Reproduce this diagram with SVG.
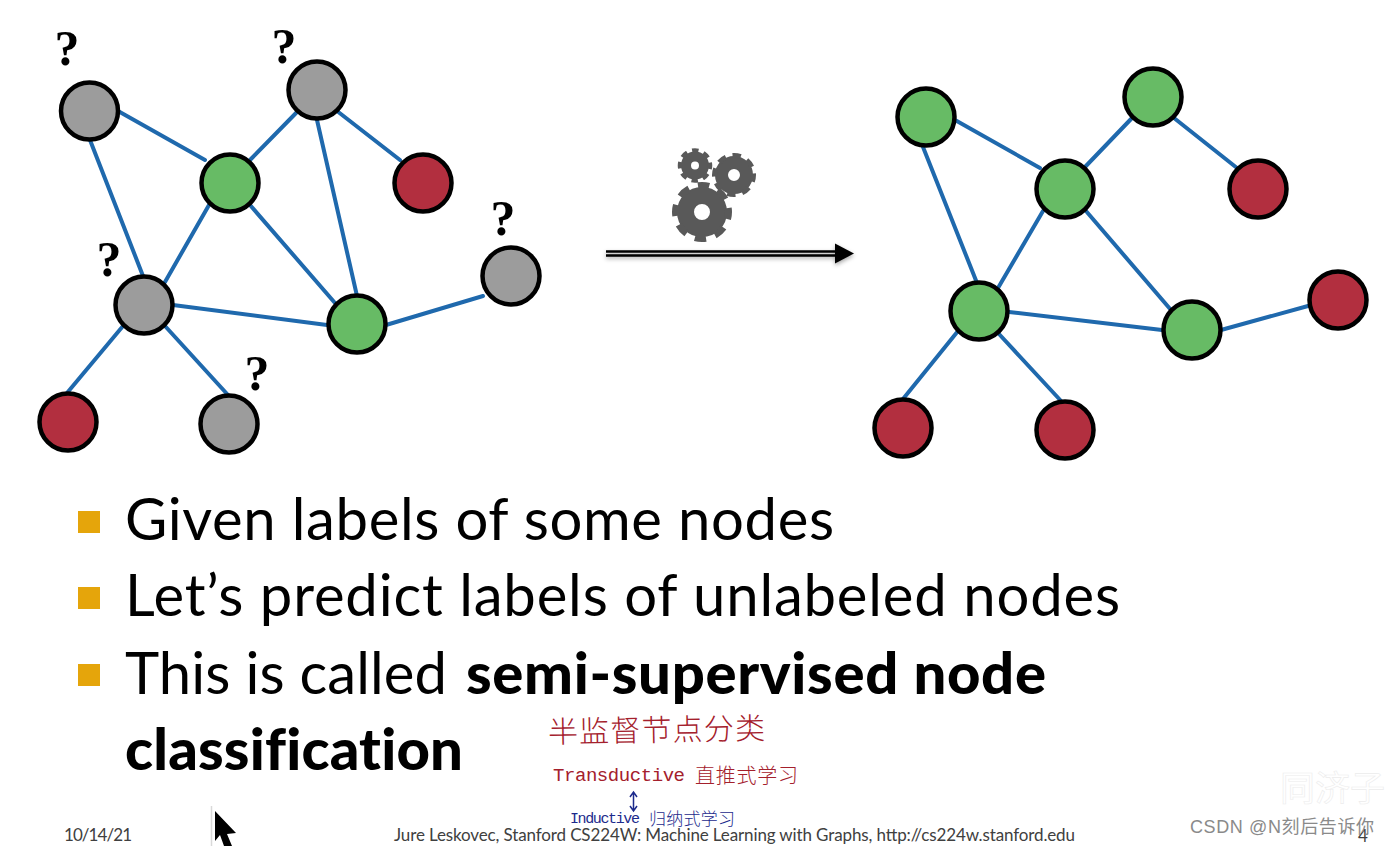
<svg xmlns="http://www.w3.org/2000/svg" width="1389" height="846" viewBox="0 0 1389 846">
<style>
.e{stroke:#1f69ad;stroke-width:4;fill:none;stroke-linecap:round}
.n{stroke:#000;stroke-width:4.5}
.g{fill:#67bb65}.r{fill:#b22f3f}.a{fill:#9c9c9c}
.q{font:bold 50px "Liberation Serif",serif;fill:#000;text-anchor:middle}
.b{font:58px Lato,"Open Sans",sans-serif;fill:#000;font-variant-ligatures:none}
.bb{font-weight:900}
.s{fill:#e5a50b}
.f{font:17px Lato,"Open Sans",sans-serif;fill:#404040}
.hr{font-family:"Noto Sans CJK SC",sans-serif;fill:#a4202c;font-weight:300}
.hb{font-family:"Noto Sans CJK SC",sans-serif;fill:#1c2a8c;font-weight:300}
.hm{font-family:"Liberation Mono",monospace;font-weight:400}
.gear{fill:none;stroke:#595959}
</style>
<defs>
<filter id="sh" x="-10%" y="-200%" width="120%" height="500%"><feDropShadow dx="0" dy="2" stdDeviation="2" flood-color="#000" flood-opacity=".35"/></filter>
</defs>
<rect width="1389" height="846" fill="#fff"/>
<g id="connectors">
<g id="edges-left">
<path class="e" d="M118 111L205 160M90 140L143 276M250 160L297 112M337 111L400 160M317 120L357 296M209 205L165 282M250 205L335 303M173 305L327 325M386 325L483 296M123 326L67 393M165 326L228 395"/>
</g>
<g id="edges-right">
<path class="e" d="M955 120L1040 168M923 147L977 283M1085 167L1132 118M1174 118L1237 168M1043 211L998 288M1086 211L1171 310M1009 312L1162 330M1221 330L1308 306M958 331L903 399M999 334L1062 402"/>
</g>
<g id="main-arrow" filter="url(#sh)">
<path d="M606 251.500H840M606 255.500H840" stroke="#000" stroke-width="2.500" fill="none"/>
<path d="M835 243.500L854 253.500L835 263.500Z" fill="#000"/>
</g>
</g>
<g id="left-graph">
<g id="L1"><circle class="n a" cx="89.500" cy="111" r="28.500"/></g>
<g id="L2"><circle class="n a" cx="317" cy="90" r="28.500"/></g>
<g id="L3"><circle class="n g" cx="230" cy="183" r="28.500"/></g>
<g id="L4"><circle class="n r" cx="423" cy="183" r="28.500"/></g>
<g id="L5"><circle class="n a" cx="144" cy="305" r="28.500"/></g>
<g id="L6"><circle class="n g" cx="357" cy="324" r="28.500"/></g>
<g id="L7"><circle class="n a" cx="511" cy="276" r="28.500"/></g>
<g id="L8"><circle class="n r" cx="68" cy="422" r="28.500"/></g>
<g id="L9"><circle class="n a" cx="229" cy="424" r="28.500"/></g>
</g>
<g id="question-marks">
<text class="q" x="67" y="65">?</text>
<text class="q" x="284" y="63">?</text>
<text class="q" x="109" y="276">?</text>
<text class="q" x="503" y="235">?</text>
<text class="q" x="257" y="390">?</text>
</g>
<g id="right-graph">
<g id="R1"><circle class="n g" cx="926" cy="117" r="28.500"/></g>
<g id="R2"><circle class="n g" cx="1153" cy="97" r="28.500"/></g>
<g id="R3"><circle class="n g" cx="1065" cy="189" r="28.500"/></g>
<g id="R4"><circle class="n r" cx="1258" cy="189" r="28.500"/></g>
<g id="R5"><circle class="n g" cx="979" cy="311" r="28.500"/></g>
<g id="R6"><circle class="n g" cx="1192" cy="330" r="28.500"/></g>
<g id="R7"><circle class="n r" cx="1338" cy="300" r="28.500"/></g>
<g id="R8"><circle class="n r" cx="903" cy="428" r="28.500"/></g>
<g id="R9"><circle class="n r" cx="1065" cy="430" r="28.500"/></g>
</g>
<g id="gears">
<circle class="gear" cx="702" cy="212" r="16.500" stroke-width="17"/>
<circle class="gear" cx="702" cy="212" r="26.500" stroke-width="7" pathLength="80" stroke-dasharray="5.500 4.500" stroke-dashoffset="2"/>
<circle class="gear" cx="695" cy="165.500" r="9" stroke-width="10"/>
<circle class="gear" cx="695" cy="165.500" r="15" stroke-width="4.500" pathLength="80" stroke-dasharray="5.500 4.500" stroke-dashoffset="2.500"/>
<circle class="gear" cx="734" cy="175" r="12.500" stroke-width="13"/>
<circle class="gear" cx="734" cy="175" r="19.500" stroke-width="5" pathLength="80" stroke-dasharray="5.500 4.500" stroke-dashoffset="1"/>
</g>
<g id="bullets">
<rect class="s" x="78" y="511" width="22" height="22"/>
<rect class="s" x="78" y="587" width="22" height="22"/>
<rect class="s" x="78" y="664" width="22" height="22"/>
<text class="b" x="125" y="540" textLength="709">Given labels of some nodes</text>
<text class="b" x="125" y="616" textLength="995">Let’s predict labels of unlabeled nodes</text>
<text class="b" x="125" y="694" textLength="322">This is called</text>
<text class="b bb" x="466" y="694" textLength="580">semi-supervised node</text>
<text class="b bb" x="125" y="770" textLength="338">classification</text>
</g>
<g id="annotations">
<text class="hr" x="548" y="741" font-size="30" textLength="217" transform="rotate(-1 650 730)">半监督节点分类</text>
<text class="hr hm" x="553" y="781" font-size="19" textLength="132">Transductive</text>
<text class="hr" x="695" y="783" font-size="20" textLength="103">直推式学习</text>
<path d="M633.500 793V810M630 797L633.500 792L637 797M630 806L633.500 811L637 806" fill="none" stroke="#1c2a8c" stroke-width="1.500"/>
<text class="hb hm" x="570" y="823" font-size="15" textLength="70">Inductive</text>
<text class="hb" x="649" y="825" font-size="17" textLength="86">归纳式学习</text>
</g>
<g id="footer">
<text class="f" x="64" y="841" textLength="68">10/14/21</text>
<text class="f" x="394" y="841" textLength="681">Jure Leskovec, Stanford CS224W: Machine Learning with Graphs, http://cs224w.stanford.edu</text>
<text class="f" x="1358" y="842" fill="#222">4</text>
</g>
<g id="cursor">
<path d="M211.500 806V846" stroke="#d9d9d9" stroke-width="1.500"/>
<path d="M215 811L236 833L227 834L232 846H224L220 835L215 841Z" fill="#000"/>
</g>
<g id="watermark">
<text x="1280" y="801" font-size="35" font-family="'Noto Sans CJK SC',sans-serif" fill="#fff" stroke="#ececec" stroke-width=".6">同济子</text>
<text x="1190" y="833" font-size="18" font-family="'Liberation Sans','Noto Sans CJK SC',sans-serif" fill="#8a8a8a" textLength="184">CSDN @N刻后告诉你</text>
</g>
</svg>
